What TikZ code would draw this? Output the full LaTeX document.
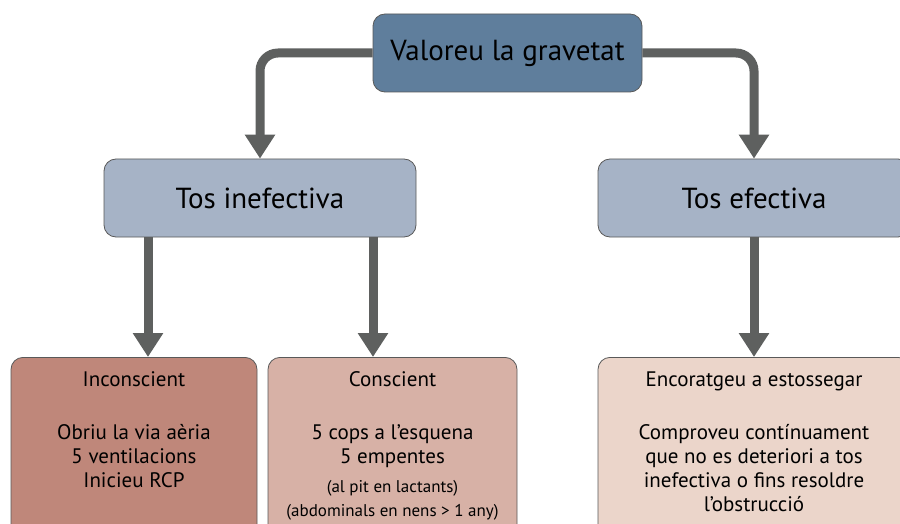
\documentclass[tikz,border=0pt]{standalone}
\usepackage{fontspec}
\setmainfont{PT Sans}
\usetikzlibrary{arrows.meta,positioning}
\definecolor{grisfletxa}{HTML}{5E605F}
\definecolor{blaufosc}{HTML}{5F7E9C}
\definecolor{blauclar}{HTML}{A6B3C6}
\definecolor{rosafosc}{HTML}{BF877A}
\definecolor{rosamig}{HTML}{D7B1A6}
\definecolor{rosaclar}{HTML}{EBD5CA}
\tikzset{
  caixa/.style={draw=black!65, line width=0.8pt, rounded corners=12pt, inner sep=0pt},
  capsa/.style={caixa, anchor=north, inner xsep=3pt, inner ysep=14pt,
    font=\fontsize{21}{24}\selectfont},
  fletxa/.style={draw=grisfletxa, line width=9pt, rounded corners=18pt,
    -{Triangle[width=29pt,length=24pt]}},
}

\begin{document}
\begin{tikzpicture}[x=1pt,y=-1pt]
  \useasboundingbox (0,0) rectangle (900,524);
  \clip (0,0) rectangle (900,524);
  % caixes
  \node[caixa, fill=blaufosc, minimum width=269pt, minimum height=78pt,
    font=\fontsize{29}{36}\selectfont] (grav) at (507.5,53) {Valoreu la gravetat};
  \node[caixa, fill=blauclar, minimum width=312pt, minimum height=78pt,
    font=\fontsize{29}{34}\selectfont] (ineff) at (260,198) {Tos inefectiva};
  \node[caixa, fill=blauclar, minimum width=312pt, minimum height=78pt,
    font=\fontsize{29}{34}\selectfont] (eff) at (754,198) {Tos efectiva};
  \node[capsa, fill=rosafosc, minimum width=246pt] (incons) at (134,357)
    {\parbox[t][190pt][t]{240pt}{\centering Inconscient\\[29pt]
      Obriu la via aèria\\ 5 ventilacions\\ Inicieu RCP}};
  \node[capsa, fill=rosamig, minimum width=249pt] (cons) at (392.5,357)
    {\parbox[t][190pt][t]{243pt}{\centering Conscient\\[29pt]
      5 cops a l’esquena\\ 5 empentes\\[5pt]
      {\fontsize{17}{24}\selectfont (al pit en lactants)\\
      (abdominals en nens > 1 any)}}};
  \node[capsa, fill=rosaclar, minimum width=312pt] (encor) at (754,357)
    {\parbox[t][190pt][t]{306pt}{\centering Encoratgeu a estossegar\\[29pt]
      Comproveu contínuament\\ que no es deteriori a tos\\
      inefectiva o fins resoldre\\ l’obstrucció}};
  % fletxes
  \draw[fletxa] (grav.west) -| (ineff.north);
  \draw[fletxa] (grav.east) -| (eff.north);
  \draw[fletxa] ([xshift=-112pt]ineff.south) -- ([xshift=14pt]incons.north);
  \draw[fletxa] ([xshift=113pt]ineff.south) -- ([xshift=-19.5pt]cons.north);
  \draw[fletxa] (eff.south) -- (encor.north);
\end{tikzpicture}
\end{document}
